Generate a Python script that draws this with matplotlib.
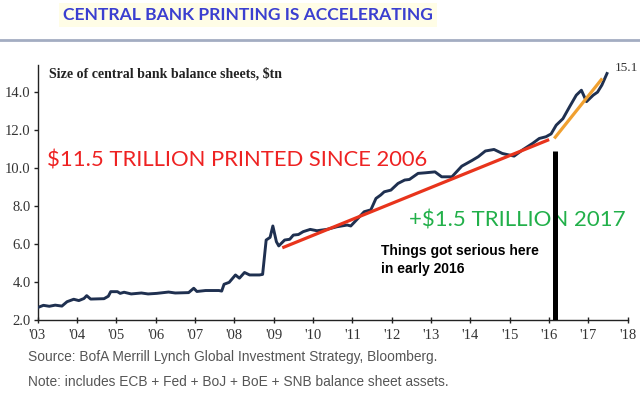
import numpy as np
import matplotlib
matplotlib.use("Agg")
import matplotlib.pyplot as plt
import matplotlib.patheffects as pe

# balance sheet size, $tn
years = [2003.00, 2003.15, 2003.30, 2003.45, 2003.62, 2003.75, 2003.92, 2004.05, 2004.18, 2004.25,
         2004.35, 2004.69, 2004.80, 2004.86, 2005.03, 2005.10, 2005.20, 2005.38, 2005.64, 2005.81,
         2006.03, 2006.33, 2006.50, 2006.84, 2006.97, 2007.05, 2007.27, 2007.61, 2007.68, 2007.74,
         2007.87, 2008.03, 2008.13, 2008.26, 2008.39, 2008.64, 2008.72, 2008.81, 2008.91, 2008.98,
         2009.07, 2009.13, 2009.28, 2009.41, 2009.50, 2009.63, 2009.75, 2009.93, 2010.10, 2010.35,
         2010.61, 2010.87, 2010.96, 2011.12, 2011.30, 2011.47, 2011.60, 2011.72, 2011.81, 2011.98,
         2012.16, 2012.33, 2012.45, 2012.67, 2012.85, 2013.10, 2013.27, 2013.53, 2013.78, 2014.04,
         2014.20, 2014.38, 2014.60, 2014.81, 2015.11, 2015.32, 2015.58, 2015.75, 2015.92, 2016.05,
         2016.18, 2016.35, 2016.52, 2016.69, 2016.82, 2016.95, 2017.12, 2017.23, 2017.34, 2017.47]
values = [2.65, 2.77, 2.72, 2.78, 2.73, 2.96, 3.09, 3.02, 3.13, 3.28,
          3.10, 3.12, 3.25, 3.49, 3.49, 3.40, 3.46, 3.37, 3.42, 3.37,
          3.40, 3.47, 3.42, 3.44, 3.67, 3.50, 3.55, 3.55, 3.52, 3.88,
          3.98, 4.37, 4.20, 4.50, 4.37, 4.37, 4.40, 6.21, 6.35, 6.95,
          6.12, 5.90, 6.21, 6.25, 6.47, 6.50, 6.65, 6.77, 6.70, 6.77,
          6.91, 7.00, 6.95, 7.30, 7.70, 7.80, 8.40, 8.58, 8.75, 8.84,
          9.19, 9.37, 9.40, 9.72, 9.75, 9.80, 9.54, 9.54, 10.10, 10.40,
          10.60, 10.90, 10.98, 10.77, 10.63, 10.95, 11.30, 11.56, 11.65, 11.80,
          12.26, 12.60, 13.23, 13.84, 14.10, 13.50, 13.84, 14.00, 14.37, 14.98]

# trend lines drawn on the chart
red_x = [2009.22, 2016.0]
red_y = [5.8, 11.5]
orange_x = [2016.13, 2017.35]
orange_y = [11.56, 14.72]
marker_year = 2016.16

xticks = list(range(2003, 2019))
xlabels = ["'%02d" % (y % 100) for y in xticks]
yticks = [2.0, 4.0, 6.0, 8.0, 10.0, 12.0, 14.0]

fig = plt.figure(figsize=(6.4, 3.95), dpi=100)
fig.patch.set_facecolor("white")
ax = fig.add_axes([0.0586, 0.19, 0.9224, 0.645])

shadow = [pe.SimplePatchShadow(offset=(1.5, -1.5), shadow_rgbFace="#999999", alpha=0.5), pe.Normal()]

ax.plot(years, values, color="#1f3050", lw=2.1, zorder=3)
ax.plot(red_x, red_y, color="#e8341c", lw=2.3, zorder=4, path_effects=shadow, solid_capstyle="butt")
ax.plot(orange_x, orange_y, color="#f0a030", lw=2.3, zorder=4, path_effects=shadow, solid_capstyle="butt")
ax.plot([marker_year, marker_year], [2.0, 10.9], color="black", lw=3.6, zorder=5,
        path_effects=shadow, solid_capstyle="butt")

ax.set_xlim(2003, 2018)
ax.set_ylim(2.0, 15.42)
ax.set_xticks(xticks)
ax.set_xticklabels(xlabels)
ax.set_yticks(yticks)
ax.set_yticklabels(["%.1f" % v for v in yticks])

for s in ["top", "right"]:
    ax.spines[s].set_visible(False)
for s in ["left", "bottom"]:
    ax.spines[s].set_color("#222222")
    ax.spines[s].set_linewidth(1.0)

ax.tick_params(axis="x", direction="inout", length=5, width=1, color="#222222", pad=4)
ax.tick_params(axis="y", direction="out", length=3, width=1, color="#222222", pad=2)
for lab in ax.get_xticklabels() + ax.get_yticklabels():
    lab.set_fontfamily("Liberation Serif")
    lab.set_fontsize(10.5)
    lab.set_color("#333333")

ax.text(2003.3, 14.95, "Size of central bank balance sheets, $tn", family="Liberation Serif",
        fontweight="bold", fontsize=10, color="#222222", va="center")
ax.text(2017.68, 15.25, "15.1", family="Liberation Serif", fontsize=9.5, color="#333333", va="center")

ax.text(2003.25, 10.4, "$11.5 TRILLION PRINTED SINCE 2006", family="Lato", fontsize=15.8,
        color="#ee2222", va="center")
ax.text(2012.43, 7.25, "+$1.5 TRILLION 2017", family="Lato", fontsize=16,
        color="#22b04a", va="center")
ax.text(2011.74, 5.15, "Things got serious here\nin early 2016", family="Liberation Sans",
        fontweight="bold", fontsize=10, color="black", va="center", linespacing=1.3)

# header
fig.text(0.387, 0.962, "CENTRAL BANK PRINTING IS ACCELERATING", family="Lato", fontweight="bold",
         fontsize=12.6, color="#3b3fd0", ha="center", va="center",
         bbox=dict(facecolor="#fffde6", edgecolor="none", pad=3))
fig.add_artist(plt.Line2D([0, 1], [0.898, 0.898], color="#a3adc2", lw=2))

fig.text(0.044, 0.097, "Source: BofA Merrill Lynch Global Investment Strategy, Bloomberg.",
         family="Liberation Sans", fontsize=9.9, color="#555555", va="center")
fig.text(0.044, 0.033, "Note: includes ECB + Fed + BoJ + BoE + SNB balance sheet assets.",
         family="Liberation Sans", fontsize=9.9, color="#555555", va="center")

fig.savefig("out.png", dpi=100)
